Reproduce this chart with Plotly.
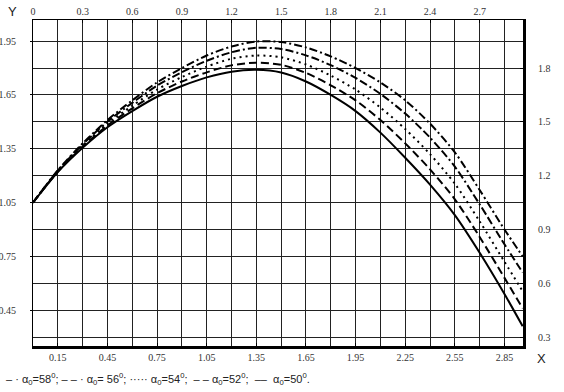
import plotly.graph_objects as go

# ---- data ----
x_vals = [0, 0.15, 0.3, 0.45, 0.6, 0.75, 0.9, 1.05, 1.2, 1.35, 1.5, 1.65,
          1.8, 1.95, 2.1, 2.25, 2.4, 2.55, 2.7, 2.85, 2.96]

y_58 = [1.05, 1.23, 1.38, 1.51, 1.62, 1.72, 1.80, 1.87, 1.92, 1.948, 1.945,
        1.915, 1.865, 1.80, 1.72, 1.62, 1.49, 1.33, 1.12, 0.90, 0.75]
y_56 = [1.05, 1.228, 1.374, 1.501, 1.606, 1.702, 1.777, 1.841, 1.888, 1.913,
        1.906, 1.871, 1.816, 1.745, 1.656, 1.546, 1.412, 1.25, 1.04, 0.817, 0.66]
y_54 = [1.05, 1.225, 1.368, 1.49, 1.59, 1.68, 1.75, 1.808, 1.852, 1.87,
        1.86, 1.82, 1.758, 1.68, 1.58, 1.46, 1.32, 1.155, 0.945, 0.72, 0.555]
y_52 = [1.05, 1.222, 1.361, 1.48, 1.575, 1.66, 1.725, 1.776, 1.815, 1.83,
        1.818, 1.773, 1.704, 1.62, 1.51, 1.38, 1.235, 1.068, 0.858, 0.63, 0.46]
y_50 = [1.05, 1.22, 1.355, 1.47, 1.56, 1.64, 1.70, 1.748, 1.78, 1.79,
        1.775, 1.725, 1.65, 1.56, 1.44, 1.30, 1.15, 0.98, 0.77, 0.54, 0.36]

series_names = ["α0=58°", "α0=56°", "α0=54°", "α0=52°", "α0=50°"]

x_bottom_ticks = [0.15, 0.45, 0.75, 1.05, 1.35, 1.65, 1.95, 2.25, 2.55, 2.85]
x_bottom_labels = ["0.15", "0.45", "0.75", "1.05", "1.35", "1.65", "1.95", "2.25", "2.55", "2.85"]
x_top_ticks = [0, 0.3, 0.6, 0.9, 1.2, 1.5, 1.8, 2.1, 2.4, 2.7]
x_top_labels = ["0", "0.3", "0.6", "0.9", "1.2", "1.5", "1.8", "2.1", "2.4", "2.7"]
y_left_ticks = [0.45, 0.75, 1.05, 1.35, 1.65, 1.95]
y_left_labels = ["0.45", "0.75", "1.05", "1.35", "1.65", "1.95"]
y_right_ticks = [0.3, 0.6, 0.9, 1.2, 1.5, 1.8]
y_right_labels = ["0.3", "0.6", "0.9", "1.2", "1.5", "1.8"]

legend_text = ("– · α<sub>0</sub>=58<sup>0</sup>; – – · α<sub>0</sub>= 56<sup>0</sup>; "
               "····· α<sub>0</sub>=54<sup>0</sup>;  – – α<sub>0</sub>=52<sup>0</sup>;  "
               "––  α<sub>0</sub>=50<sup>0</sup>.")

# ---- figure ----
W, H = 564, 392
ML, MR, MT, MB = 33, 41, 20, 46
X_RANGE = [0, 2.962]
Y_RANGE = [0.25, 2.068]

styles = [
    "8px,3px,2px,3px",
    "8px,3px,8px,3px,2px,3px",
    "2px,4px",
    "8px,4px",
    "solid",
]

fig = go.Figure()
for ys, name, dash in zip([y_58, y_56, y_54, y_52, y_50], series_names, styles):
    fig.add_trace(go.Scatter(
        x=x_vals, y=ys, mode="lines", name=name, showlegend=False,
        line=dict(color="black", width=2, dash=dash, shape="spline", smoothing=0.8),
    ))

# empty trace to activate the secondary (top/right) axes
fig.add_trace(go.Scatter(x=[], y=[], xaxis="x2", yaxis="y2", showlegend=False,
                         hoverinfo="skip"))

tick_font = dict(family="Liberation Serif", size=10, color="#333")
grid_col = "#222"

common = dict(showgrid=True, gridcolor=grid_col, gridwidth=1, zeroline=False,
              showline=True, linecolor="black", tickcolor="black",
              tickfont=tick_font, automargin=False, tickmode="array")

fig.update_layout(
    width=W, height=H,
    margin=dict(l=ML, r=MR, t=MT, b=MB, autoexpand=False),
    paper_bgcolor="white", plot_bgcolor="white",
    showlegend=False,
    xaxis=dict(range=X_RANGE, tickvals=x_bottom_ticks, ticktext=x_bottom_labels,
               linewidth=2.5, ticks="inside", ticklen=3, **common),
    xaxis2=dict(range=X_RANGE, overlaying="x", side="top", anchor="y2",
                tickvals=x_top_ticks, ticktext=x_top_labels,
                linewidth=1, ticks="inside", ticklen=3, **common),
    yaxis=dict(range=Y_RANGE, tickvals=y_left_ticks, ticktext=y_left_labels,
               linewidth=1, ticks="outside", ticklen=2, ticklabelstandoff=12, **common),
    yaxis2=dict(range=Y_RANGE, overlaying="y", side="right", anchor="x2",
                tickvals=y_right_ticks, ticktext=y_right_labels,
                linewidth=3, ticks="inside", ticklen=3, ticklabelstandoff=10, **common),
)

pw = W - ML - MR
ph = H - MT - MB


def px2paper(px, py_top):
    return (px - ML) / pw, (H - py_top - MB) / ph


anns = []
for text, px, py, xa, size in [
    ("Y", 12, 12, "center", 13),
    ("X", 541, 358, "center", 13),
    (legend_text, 4, 379, "left", 11),
]:
    ax_, ay_ = px2paper(px, py)
    anns.append(dict(text=text, x=ax_, y=ay_, xref="paper", yref="paper",
                     showarrow=False, xanchor=xa, yanchor="middle",
                     font=dict(family="Liberation Sans", size=size, color="#222")))
fig.update_layout(annotations=anns)

fig.write_html("out.html",
               config={"displayModeBar": False},
               post_script="document.body.style.margin='0';document.body.style.overflow='hidden';")
